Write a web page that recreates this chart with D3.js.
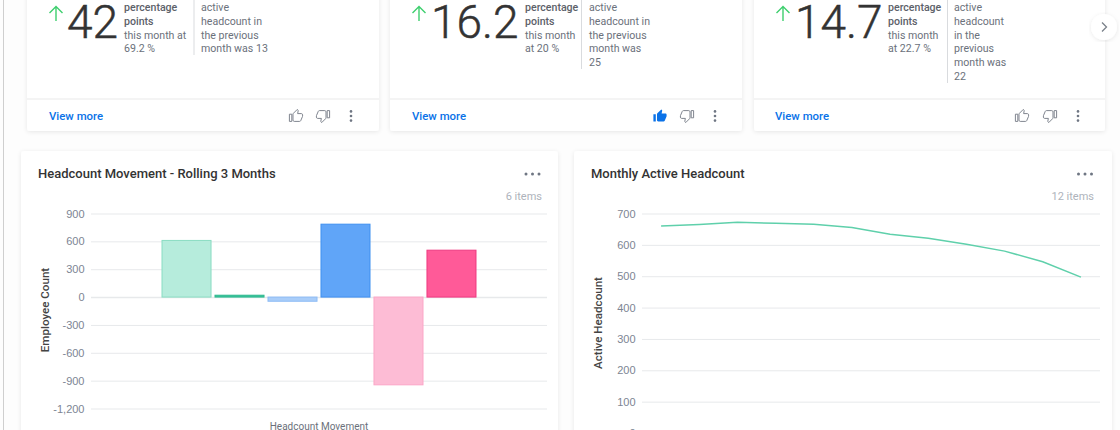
<!DOCTYPE html>
<html>
<head>
  <meta charset="utf-8">
  <title>Headcount dashboard</title>
  <script src="https://d3js.org/d3.v7.min.js"></script>
  <style>
    html, body { margin: 0; padding: 0; background: #fdfdfd; overflow: hidden; }
    svg { display: block; font-family: Roboto, sans-serif; }
    .grid .domain { display: none; }
    .grid line { stroke: #e7e9eb; }
    .grid text { fill: #7d8593; font-size: 11px; }
  </style>
</head>
<body>
  <script>
    // KPI cards
    var kpiValues = ["42", "16.2", "14.7"];
    var kpiLeft = [
      ["percentage", "points", "this month at", "69.2 %"],
      ["percentage", "points", "this month", "at 20 %"],
      ["percentage", "points", "this month", "at 22.7 %"]
    ];
    var kpiRight = [
      ["active", "headcount in", "the previous", "month was 13"],
      ["active", "headcount in", "the previous", "month was", "25"],
      ["active", "headcount", "in the", "previous", "month was", "22"]
    ];
    var kpiLiked = [false, true, false];

    // Headcount movement bars
    var moveCategories = ["1", "2", "3", "4", "5", "6"];
    var moveValues = [610, 20, -45, 785, -945, 505];
    var moveTicks = [900, 600, 300, 0, -300, -600, -900, -1200];
    var moveFill = ["#b6ecdc", "#36c298", "#a9cdf9", "#60a5f8", "#fdbcd5", "#ff5a98"];
    var moveStroke = ["#8adcc2", "#2fb98f", "#8dbcf5", "#3f90f0", "#fba6c7", "#ee3a80"];

    // Monthly active headcount line
    var months = ["1", "2", "3", "4", "5", "6", "7", "8", "9", "10", "11", "12"];
    var activeValues = [660, 665, 672, 669, 666, 655, 634, 621, 602, 580, 546, 497];
    var activeTicks = [700, 600, 500, 400, 300, 200, 100, 0];

    var thumbPath = "M1 21h4V9H1v12zm22-11c0-1.1-.9-2-2-2h-6.31l.95-4.57.03-.32c0-.41-.17-.79-.44-1.06L14.17 1 7.59 7.59C7.22 7.95 7 8.45 7 9v10c0 1.1.9 2 2 2h9c.83 0 1.54-.5 1.84-1.22l3.02-7.05c.09-.23.14-.47.14-.73v-2z";

    var svg = d3.select("body").append("svg")
      .attr("width", 1120)
      .attr("height", 430);

    var defs = svg.append("defs");
    var shadow = defs.append("filter").attr("id", "shadow")
      .attr("x", "-5%").attr("y", "-5%").attr("width", "110%").attr("height", "110%");
    shadow.append("feDropShadow")
      .attr("dx", 0).attr("dy", 1).attr("stdDeviation", 2)
      .attr("flood-color", "#000").attr("flood-opacity", 0.09);

    svg.append("line")
      .attr("x1", 3.5).attr("x2", 3.5).attr("y1", 0).attr("y2", 430)
      .attr("stroke", "#cfcfcf");

    function card(x0, y0, x1, y1) {
      svg.append("rect")
        .attr("x", x0).attr("y", y0)
        .attr("width", x1 - x0).attr("height", y1 - y0)
        .attr("rx", 3)
        .attr("fill", "#fff")
        .attr("filter", "url(#shadow)");
    }

    function textLines(g, lines, x, fill, boldCount) {
      lines.forEach(function(t, i) {
        g.append("text")
          .attr("x", x)
          .attr("y", 11 + i * 13.8)
          .attr("font-size", 10.6)
          .attr("font-weight", i < boldCount ? 500 : 400)
          .attr("fill", i < boldCount ? "#5c6169" : fill)
          .text(t);
      });
    }

    function dots(g, cx, cy, dx, dy, r) {
      d3.range(3).forEach(function(i) {
        g.append("circle")
          .attr("cx", cx + (i - 1) * dx)
          .attr("cy", cy + (i - 1) * dy)
          .attr("r", r)
          .attr("fill", "#6f7683");
      });
    }

    function thumb(g, cx, cy, down, liked) {
      var t = "translate(" + (cx - 7.2) + "," + (cy - 7.2) + ") scale(0.6)";
      if (down) t = "translate(" + (cx + 7.2) + "," + (cy + 7.2) + ") scale(0.6) rotate(180)";
      g.append("path")
        .attr("d", thumbPath)
        .attr("transform", t)
        .attr("fill", liked ? "#0a72e8" : "none")
        .attr("stroke", liked ? "none" : "#7a808a")
        .attr("stroke-width", 1.6);
    }

    var kpiCards = [
      { x0: 27, x1: 379, arrow: 56, num: 67, left: 124, div: 194, right: 201, divEnd: 55, more: 49, up: 296, dn: 323, dot: 351 },
      { x0: 390, x1: 742, arrow: 419, num: 431, left: 525, div: 581.5, right: 589, divEnd: 69, more: 412, up: 660, dn: 687, dot: 715 },
      { x0: 754, x1: 1105, arrow: 783, num: 795, left: 888, div: 947.5, right: 954, divEnd: 83, more: 775, up: 1022, dn: 1050, dot: 1078 }
    ];

    kpiCards.forEach(function(c, i) {
      card(c.x0, -10, c.x1, 131);
      var g = svg.append("g");
      g.append("path")
        .attr("d", "M" + c.arrow + " 21V7M" + (c.arrow - 6.5) + " 13L" + c.arrow + " 6.5L" + (c.arrow + 6.5) + " 13")
        .attr("fill", "none")
        .attr("stroke", "#3ecf6e")
        .attr("stroke-width", 1.4);
      g.append("text")
        .attr("x", c.num).attr("y", 38)
        .attr("font-size", 46)
        .attr("font-weight", 300)
        .attr("fill", "#333")
        .attr("stroke", "#333")
        .attr("stroke-width", 0.5)
        .text(kpiValues[i]);
      textLines(g, kpiLeft[i], c.left, "#6b717b", 2);
      g.append("line")
        .attr("x1", c.div).attr("x2", c.div).attr("y1", 0).attr("y2", c.divEnd)
        .attr("stroke", "#d9dbde");
      textLines(g, kpiRight[i], c.right, "#6b717b", 0);
      g.append("line")
        .attr("x1", c.x0).attr("x2", c.x1).attr("y1", 99).attr("y2", 99)
        .attr("stroke", "#f0f0f0").attr("stroke-width", 1.5);
      g.append("text")
        .attr("x", c.more).attr("y", 120)
        .attr("font-size", 11.4)
        .attr("font-weight", 500)
        .attr("fill", "#0a72e8")
        .text("View more");
      thumb(g, c.up, 116, false, kpiLiked[i]);
      thumb(g, c.dn, 116, true, false);
      dots(g, c.dot, 116, 0, 4.6, 1.3);
    });

    // scroll button
    svg.append("circle")
      .attr("cx", 1104).attr("cy", 27).attr("r", 13)
      .attr("fill", "#fff").attr("filter", "url(#shadow)");
    svg.append("path")
      .attr("d", "M1102 22.5L1106.5 27L1102 31.5")
      .attr("fill", "none").attr("stroke", "#7a808a").attr("stroke-width", 1.3);

    function chartCard(x0, x1, title, titleX, items, itemsX, dotX) {
      card(x0, 151, x1, 445);
      svg.append("text")
        .attr("x", titleX).attr("y", 178)
        .attr("font-size", 13)
        .attr("font-weight", 500)
        .attr("fill", "#333")
        .text(title);
      dots(svg, dotX, 174, 6.5, 0, 1.5);
      svg.append("text")
        .attr("x", itemsX).attr("y", 200)
        .attr("text-anchor", "end")
        .attr("font-size", 11)
        .attr("fill", "#aeb3bb")
        .text(items);
    }

    function axisTitle(text, x, y) {
      svg.append("text")
        .attr("transform", "translate(" + x + "," + y + ") rotate(-90)")
        .attr("text-anchor", "middle")
        .attr("font-size", 11.6)
        .attr("font-weight", 500)
        .attr("fill", "#444")
        .text(text);
    }

    // bar chart
    chartCard(21, 558, "Headcount Movement - Rolling 3 Months", 38, "6 items", 542, 532.5);

    var xMove = d3.scaleBand()
      .domain(moveCategories)
      .range([91, 547])
      .paddingInner(0.075)
      .paddingOuter(1.34);
    var yMove = d3.scaleLinear().domain([-1200, 900]).range([408.5, 213.5]);

    svg.append("g")
      .attr("class", "grid")
      .attr("transform", "translate(91,0)")
      .call(d3.axisLeft(yMove).tickValues(moveTicks).tickSize(-456).tickPadding(6.5)
        .tickFormat(function(d) { return d3.format(",")(d).replace("\u2212", "-"); }))
      .call(function(g) { g.selectAll(".tick line").filter(function(d) { return d === 0; }).attr("stroke", "#d5d8de").attr("stroke-width", 1.5); });

    svg.append("g").selectAll("rect")
      .data(moveValues)
      .join("rect")
      .attr("x", function(d, i) { return xMove(moveCategories[i]); })
      .attr("y", function(d) { return yMove(Math.max(d, 0)); })
      .attr("width", xMove.bandwidth())
      .attr("height", function(d) { return Math.abs(yMove(d) - yMove(0)); })
      .attr("fill", function(d, i) { return moveFill[i]; })
      .attr("stroke", function(d, i) { return moveStroke[i]; })
      .attr("stroke-width", 1);

    axisTitle("Employee Count", 49, 310);
    svg.append("text")
      .attr("x", 319).attr("y", 430)
      .attr("text-anchor", "middle")
      .attr("font-size", 10)
      .attr("fill", "#6b717b")
      .text("Headcount Movement");

    // line chart
    chartCard(574, 1112, "Monthly Active Headcount", 591, "12 items", 1094, 1085);

    var xActive = d3.scalePoint().domain(months).range([642, 1100]).padding(0.5);
    var yActive = d3.scaleLinear().domain([0, 700]).range([433, 213.5]);

    svg.append("g")
      .attr("class", "grid")
      .attr("transform", "translate(642,0)")
      .call(d3.axisLeft(yActive).tickValues(activeTicks).tickSize(-458).tickPadding(6.5));

    svg.append("path")
      .datum(activeValues)
      .attr("fill", "none")
      .attr("stroke", "#5fd0ab")
      .attr("stroke-width", 1.5)
      .attr("d", d3.line()
        .x(function(d, i) { return xActive(months[i]); })
        .y(function(d) { return yActive(d); }));

    axisTitle("Active Headcount", 602, 323);
  </script>
</body>
</html>
